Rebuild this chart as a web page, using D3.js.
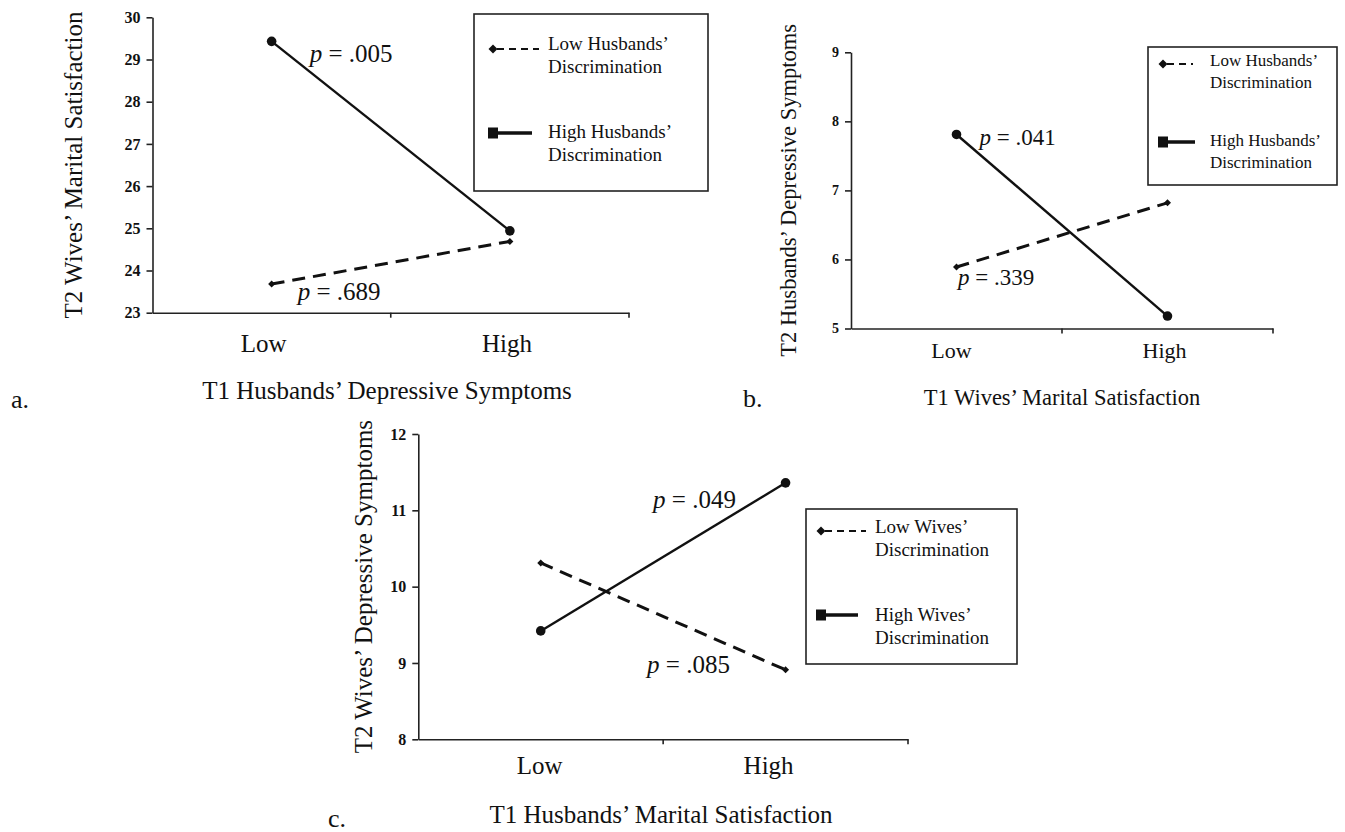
<!DOCTYPE html>
<html>
<head>
<meta charset="utf-8">
<script src="https://cdn.jsdelivr.net/npm/d3@7"></script>
<style>
  body { margin: 0; background: #fff; }
  svg { display: block; }
  text { font-family: "Liberation Serif", "Times New Roman", serif; fill: #111; }
</style>
</head>
<body>
<svg id="chart" width="1345" height="832"></svg>
<script>
// categories on every x axis
var categories = ["Low", "High"];

// panel a: T2 wives' marital satisfaction
var aTicks = [23, 24, 25, 26, 27, 28, 29, 30];
var aLowDisc = [23.68, 24.69];
var aHighDisc = [29.43, 24.94];

// panel b: T2 husbands' depressive symptoms
var bTicks = [5, 6, 7, 8, 9];
var bLowDisc = [5.89, 6.82];
var bHighDisc = [7.81, 5.18];

// panel c: T2 wives' depressive symptoms
var cTicks = [8, 9, 10, 11, 12];
var cLowDisc = [10.31, 8.91];
var cHighDisc = [9.42, 11.36];

var legendHusbands = [["Low Husbands’", "Discrimination"], ["High Husbands’", "Discrimination"]];
var legendWives = [["Low Wives’", "Discrimination"], ["High Wives’", "Discrimination"]];

var panels = [
  {
    tag: "a.", ticks: aTicks, low: aLowDisc, high: aHighDisc,
    yTitle: "T2 Wives’ Marital Satisfaction", xTitle: "T1 Husbands’ Depressive Symptoms",
    pLow: ".689", pHigh: ".005", legend: legendHusbands,
    left: 152.5, right: 629, top: 17.3, bottom: 312.7,
    tickFont: 16, catFont: 25, catPad: 22, catShift: [-8, -3], titleFont: 25, yTitleX: 82, xTitleY: 399, xTitleX: 387,
    pFont: 25, pHighAt: [0, 38, 21], pLowAt: [0, 26, 16],
    tagX: 11, tagY: 408,
    lg: { x: 474, y: 14, w: 234, h: 177, font: 19, sx: 19, dashEnd: 65, tx: 74, r1: 35, r2: 119, b: [36, 59, 124, 147], solidEnd: 58 }
  },
  {
    tag: "b.", ticks: bTicks, low: bLowDisc, high: bHighDisc,
    yTitle: "T2 Husbands’ Depressive Symptoms", xTitle: "T1 Wives’ Marital Satisfaction",
    pLow: ".339", pHigh: ".041", legend: legendHusbands,
    left: 851, right: 1273, top: 52.3, bottom: 328.5,
    tickFont: 14, catFont: 22, catPad: 14, catShift: [-5, -3], titleFont: 22.5, yTitleX: 796, xTitleY: 405, xTitleX: 1062,
    pFont: 23, pHighAt: [0, 23, 11], pLowAt: [0, 1.5, 18],
    tagX: 743, tagY: 407,
    lg: { x: 1148, y: 47, w: 189, h: 138, font: 17, sx: 15, dashEnd: 45, tx: 62, r1: 17, r2: 95, b: [19, 41, 99, 121], solidEnd: 47 }
  },
  {
    tag: "c.", ticks: cTicks, low: cLowDisc, high: cHighDisc,
    yTitle: "T2 Wives’ Depressive Symptoms", xTitle: "T1 Husbands’ Marital Satisfaction",
    pLow: ".085", pHigh: ".049", legend: legendWives,
    left: 418.3, right: 908, top: 434, bottom: 739.3,
    tickFont: 16, catFont: 25, catPad: 17, catShift: [-1, -17], titleFont: 25, yTitleX: 371.5, xTitleY: 823, xTitleX: 661,
    pFont: 25, pHighAt: [1, -132.5, 25], pLowAt: [1, -138.5, 3],
    tagX: 328, tagY: 827,
    lg: { x: 806, y: 509, w: 211, h: 155, font: 19, sx: 15, dashEnd: 60, tx: 69, r1: 22, r2: 106, b: [24, 47, 112, 135], solidEnd: 52 }
  }
];

var svg = d3.select("#chart");

// a wide diamond like the original marker
function diamond(s) {
  return "M0," + (-s) + "L" + s + ",0L0," + s + "L" + (-s) + ",0Z";
}

panels.forEach(function(p) {
  var x = d3.scaleBand().domain(categories).range([p.left, p.right]);
  var y = d3.scaleLinear().domain(d3.extent(p.ticks)).range([p.bottom, p.top]);
  var cx = function(i) { return x(categories[i]) + x.bandwidth() / 2; };

  // y axis
  var gy = svg.append("g")
      .attr("transform", "translate(" + p.left + ",0)")
      .call(d3.axisLeft(y).tickValues(p.ticks).tickSize(6).tickSizeOuter(0).tickPadding(6).tickFormat(d3.format("d")));
  gy.selectAll("text").style("font-size", p.tickFont + "px").style("font-weight", "bold");

  // x axis, labels in the middle of each band
  var gx = svg.append("g")
      .attr("transform", "translate(0," + p.bottom + ")")
      .call(d3.axisBottom(x).tickSize(0).tickSizeOuter(0).tickPadding(p.catPad));
  gx.selectAll("text")
      .style("font-size", p.catFont + "px")
      .attr("dx", function(d, i) { return p.catShift[i]; });
  // ticks sit on the band edges
  var edges = categories.slice(1).map(function(c) { return x(c); }).concat([x.range()[1]]);
  gx.selectAll("line.edge")
      .data(edges)
      .enter()
      .append("line")
      .attr("class", "edge")
      .attr("x1", function(d) { return d; })
      .attr("x2", function(d) { return d; })
      .attr("y1", 0)
      .attr("y2", 5);

  svg.selectAll("path.domain").attr("stroke", "#222").attr("stroke-width", 1.6);
  svg.selectAll(".tick line, line.edge").attr("stroke", "#222").attr("stroke-width", 1.6);

  // titles
  svg.append("text")
      .attr("transform", "translate(" + p.yTitleX + "," + ((p.top + p.bottom) / 2) + ") rotate(-90)")
      .attr("text-anchor", "middle")
      .style("font-size", p.titleFont + "px")
      .text(p.yTitle);
  svg.append("text")
      .attr("x", p.xTitleX)
      .attr("y", p.xTitleY)
      .attr("text-anchor", "middle")
      .style("font-size", p.titleFont + "px")
      .text(p.xTitle);
  svg.append("text")
      .attr("x", p.tagX)
      .attr("y", p.tagY)
      .style("font-size", "26px")
      .text(p.tag);

  // lines
  var line = d3.line()
      .x(function(d, i) { return cx(i); })
      .y(function(d) { return y(d); });

  svg.append("path")
      .datum(p.low)
      .attr("d", line)
      .attr("fill", "none")
      .attr("stroke", "#111")
      .attr("stroke-width", 3)
      .attr("stroke-dasharray", "13,8");

  svg.append("path")
      .datum(p.high)
      .attr("d", line)
      .attr("fill", "none")
      .attr("stroke", "#111")
      .attr("stroke-width", 2.4);

  svg.selectAll(null)
      .data(p.low)
      .enter()
      .append("path")
      .attr("d", diamond(3.5))
      .attr("transform", function(d, i) { return "translate(" + cx(i) + "," + y(d) + ")"; })
      .attr("fill", "#111");

  svg.selectAll(null)
      .data(p.high)
      .enter()
      .append("circle")
      .attr("cx", function(d, i) { return cx(i); })
      .attr("cy", function(d) { return y(d); })
      .attr("r", 4.8)
      .attr("fill", "#111");

  // p-value notes, placed from the point they describe
  function note(series, at, txt) {
    var t = svg.append("text")
        .attr("x", cx(at[0]) + at[1])
        .attr("y", y(series[at[0]]) + at[2])
        .style("font-size", p.pFont + "px");
    t.append("tspan").style("font-style", "italic").text("p");
    t.append("tspan").text(" = " + txt);
  }
  note(p.high, p.pHighAt, p.pHigh);
  note(p.low, p.pLowAt, p.pLow);

  // legend
  var L = p.lg;
  var lg = svg.append("g").attr("transform", "translate(" + L.x + "," + L.y + ")");
  lg.append("rect")
      .attr("width", L.w)
      .attr("height", L.h)
      .attr("fill", "#fff")
      .attr("stroke", "#222")
      .attr("stroke-width", 1.6);
  lg.append("line")
      .attr("x1", L.sx + 4).attr("x2", L.dashEnd)
      .attr("y1", L.r1).attr("y2", L.r1)
      .attr("stroke", "#111").attr("stroke-width", 2)
      .attr("stroke-dasharray", "7,5");
  lg.append("path")
      .attr("d", diamond(4.5))
      .attr("transform", "translate(" + L.sx + "," + L.r1 + ")")
      .attr("fill", "#111");
  lg.append("rect")
      .attr("x", L.sx - 5).attr("y", L.r2 - 5.5)
      .attr("width", 10).attr("height", 11)
      .attr("fill", "#111");
  lg.append("line")
      .attr("x1", L.sx).attr("x2", L.solidEnd)
      .attr("y1", L.r2).attr("y2", L.r2)
      .attr("stroke", "#111").attr("stroke-width", 3.5);
  var rows = [p.legend[0][0], p.legend[0][1], p.legend[1][0], p.legend[1][1]];
  lg.selectAll("text.lg")
      .data(rows)
      .enter()
      .append("text")
      .attr("class", "lg")
      .attr("x", L.tx)
      .attr("y", function(d, i) { return L.b[i]; })
      .style("font-size", L.font + "px")
      .text(function(d) { return d; });
});
</script>
</body>
</html>
